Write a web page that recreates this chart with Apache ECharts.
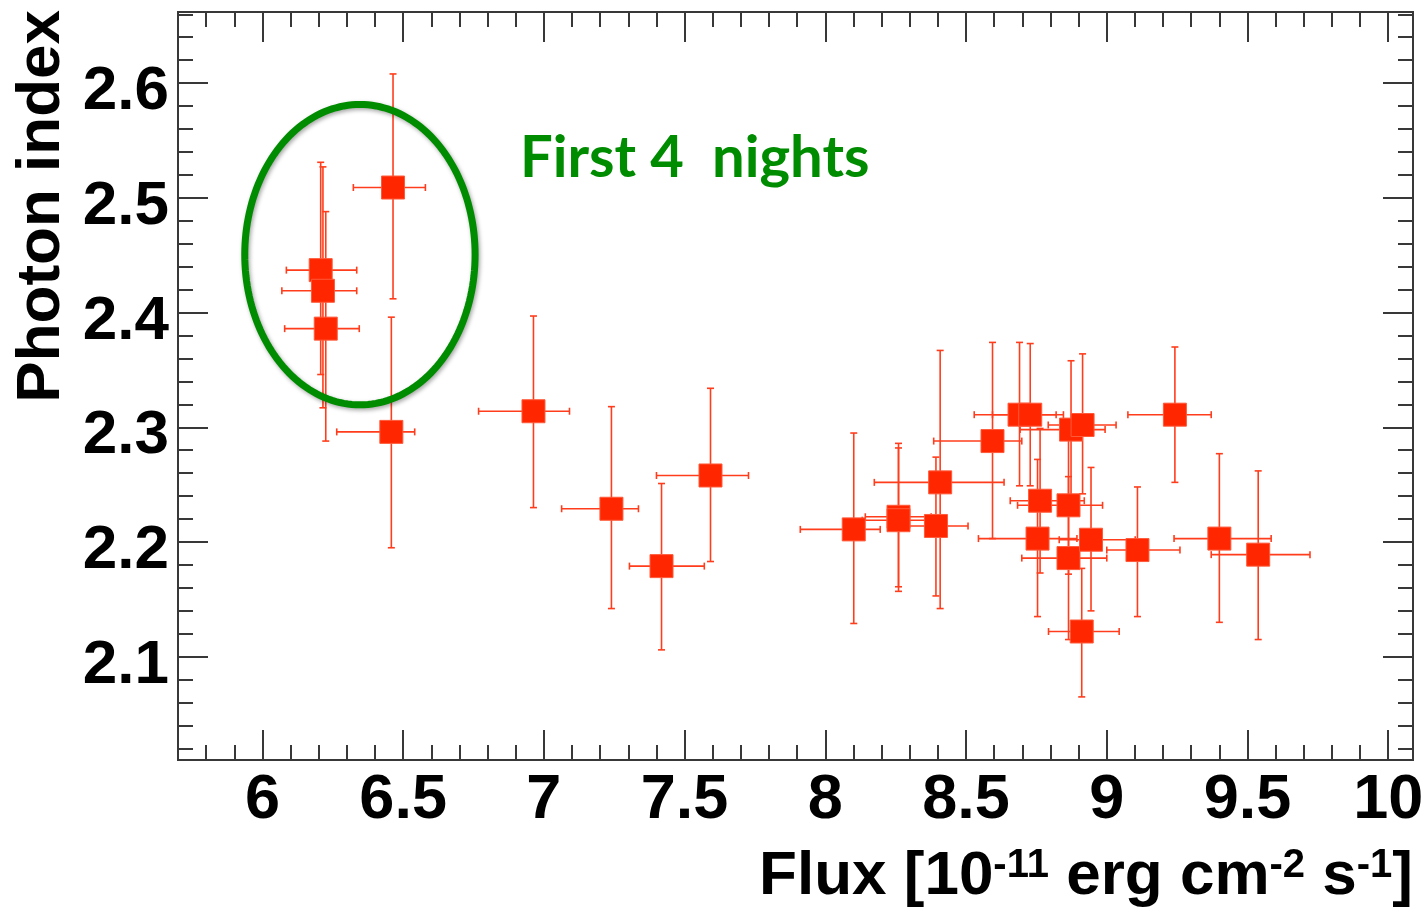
<!DOCTYPE html>
<html><head><meta charset="utf-8">
<script src="https://cdn.jsdelivr.net/npm/echarts@6/dist/echarts.min.js"></script>
<style>html,body{margin:0;padding:0;background:#fff}#c{width:1427px;height:914px}</style>
</head><body><div id="c"></div>
<script>
// Flux [1e-11 erg cm^-2 s^-1], with lower / upper error limits
const flux   = [6.207, 6.215, 6.225, 6.464, 6.458, 6.963, 7.240, 7.418, 7.592, 8.101, 8.260, 8.260, 8.393, 8.408, 8.594, 8.690, 8.728, 8.873, 8.914, 8.763, 8.864, 8.754, 8.864, 8.944, 9.109, 8.911, 9.242, 9.400, 9.538];
const fluxLo = [6.085, 6.069, 6.079, 6.323, 6.264, 6.768, 7.063, 7.304, 7.400, 7.911, 8.142, 8.131, 8.281, 8.174, 8.385, 8.529, 8.594, 8.692, 8.792, 8.657, 8.683, 8.544, 8.698, 8.831, 9.000, 8.793, 9.075, 9.239, 9.371];
const fluxHi = [6.335, 6.335, 6.344, 6.579, 6.541, 7.091, 7.336, 7.570, 7.727, 8.195, 8.376, 8.387, 8.507, 8.635, 8.698, 8.820, 8.846, 8.994, 9.033, 8.920, 8.985, 8.894, 9.000, 9.101, 9.260, 9.044, 9.371, 9.584, 9.722];
// Photon index, with lower / upper error limits
const index   = [2.437, 2.419, 2.386, 2.509, 2.296, 2.314, 2.229, 2.179, 2.258, 2.211, 2.222, 2.219, 2.214, 2.252, 2.288, 2.311, 2.311, 2.298, 2.302, 2.236, 2.232, 2.203, 2.186, 2.202, 2.193, 2.122, 2.311, 2.203, 2.189];
const indexLo = [2.346, 2.317, 2.288, 2.412, 2.195, 2.230, 2.142, 2.106, 2.183, 2.129, 2.161, 2.157, 2.153, 2.142, 2.203, 2.249, 2.249, 2.237, 2.242, 2.173, 2.172, 2.135, 2.115, 2.140, 2.135, 2.065, 2.252, 2.130, 2.115];
const indexHi = [2.531, 2.527, 2.488, 2.608, 2.396, 2.397, 2.318, 2.251, 2.334, 2.295, 2.286, 2.282, 2.274, 2.367, 2.374, 2.374, 2.373, 2.358, 2.364, 2.299, 2.292, 2.272, 2.257, 2.265, 2.248, 2.177, 2.370, 2.277, 2.262];

// Tick labels
const xTickLabels = [6, 6.5, 7, 7.5, 8, 8.5, 9, 9.5, 10];
const yTickLabels = [2.1, 2.2, 2.3, 2.4, 2.5, 2.6];

// Annotation ellipse (data coords): centre x, centre y, radius x, radius y
const ellipse = [6.3464, 2.4505, 0.4092, 0.1309];
const annotationText = 'First 4  nights';

const xMin = 5.7, xMax = 10.088, yMin = 2.01, yMax = 2.662;
const xMinorTicks = []; for (let i = 58; i <= 100; i++) xMinorTicks.push(+(i / 10).toFixed(1));
const yMinorTicks = []; for (let i = 101; i <= 133; i++) yMinorTicks.push(+(i * 2 / 100).toFixed(2));

const FRAME = '#383838';
const RED = '#ff2600';
const ERR = '#ff3d1c';
const GREEN = '#008c00';
const FONT = '"Liberation Sans", Arial, Helvetica, sans-serif';

function xAxis(pos, ticks, len, withLabels) {
  const ax = {
    type: 'value', gridIndex: 0, position: pos, min: xMin, max: xMax,
    axisLine: { show: true, onZero: false, lineStyle: { color: FRAME, width: 2 } },
    axisTick: { show: true, inside: true, length: len, customValues: ticks, lineStyle: { color: FRAME, width: 2 } },
    axisLabel: { show: false },
    splitLine: { show: false }
  };
  if (withLabels) {
    ax.axisLabel = { show: true, customValues: xTickLabels, margin: 9, color: '#000',
      fontFamily: FONT, fontWeight: 'bold', fontSize: 63 };
    ax.name = '{a|Flux [10}{s|-11}{a| erg cm}{s|-2}{a| s}{s|-1}{a|]}';
    ax.nameLocation = 'end';
    ax.nameGap = 0;
    ax.nameTextStyle = {
      align: 'right', verticalAlign: 'top', padding: [86, 0, 0, 0],
      rich: {
        a: { fontFamily: FONT, fontWeight: 'bold', fontSize: 62, lineHeight: 62, color: '#000' },
        s: { fontFamily: FONT, fontWeight: 'bold', fontSize: 40, lineHeight: 40, color: '#000', verticalAlign: 'top' }
      }
    };
  }
  return ax;
}
function yAxis(pos, ticks, len, withLabels) {
  const ax = {
    type: 'value', gridIndex: 0, position: pos, min: yMin, max: yMax,
    axisLine: { show: true, onZero: false, lineStyle: { color: FRAME, width: 2 } },
    axisTick: { show: true, inside: true, length: len, customValues: ticks, lineStyle: { color: FRAME, width: 2 } },
    axisLabel: { show: false },
    splitLine: { show: false }
  };
  if (withLabels) {
    ax.axisLabel = { show: true, customValues: yTickLabels, margin: 9, color: '#000',
      fontFamily: FONT, fontWeight: 'bold', fontSize: 62, verticalAlign: 'top', lineHeight: 18,
      formatter: v => v.toFixed(1) };
    ax.name = 'Photon index';
    ax.nameLocation = 'end';
    ax.nameRotate = 90;
    ax.nameGap = 2;
    ax.nameTextStyle = { fontFamily: FONT, fontWeight: 'bold', fontSize: 62, color: '#000',
      align: 'right', verticalAlign: 'bottom', padding: [0, 0, 105, 0] };
  }
  return ax;
}

const points = flux.map((x, i) => [x, index[i]]);
const errs = flux.map((x, i) => [x, index[i], fluxLo[i], fluxHi[i], indexLo[i], indexHi[i]]);

const chart = echarts.init(document.getElementById('c'), null, { renderer: 'canvas' });
chart.setOption({
  animation: false,
  backgroundColor: '#fff',
  grid: { left: 178, top: 12, right: 14, bottom: 154, containLabel: false, outerBoundsMode: 'none' },
  xAxis: [
    xAxis('bottom', xTickLabels, 30, true),
    xAxis('bottom', xMinorTicks, 15, false),
    xAxis('top', xTickLabels, 30, false),
    xAxis('top', xMinorTicks, 15, false)
  ],
  yAxis: [
    yAxis('left', yTickLabels, 30, true),
    yAxis('left', yMinorTicks, 15, false),
    yAxis('right', yTickLabels, 30, false),
    yAxis('right', yMinorTicks, 15, false)
  ],
  graphic: [{
    type: 'text', left: 520, top: 129, z: 100,
    style: { text: annotationText, fill: GREEN, font: 'bold 58px Lato, "Open Sans", sans-serif' }
  }],
  series: [
    {
      type: 'custom', name: 'errors', xAxisIndex: 0, yAxisIndex: 0, z: 2,
      data: errs,
      encode: { x: 0, y: 1 },
      renderItem: function (params, api) {
        const c = api.coord([api.value(0), api.value(1)]);
        const l = api.coord([api.value(2), api.value(1)]);
        const r = api.coord([api.value(3), api.value(1)]);
        const b = api.coord([api.value(0), api.value(4)]);
        const t = api.coord([api.value(0), api.value(5)]);
        const cap = 3.5;
        const st = { stroke: ERR, lineWidth: 1.6 };
        return {
          type: 'group', children: [
            { type: 'line', shape: { x1: l[0], y1: c[1], x2: r[0], y2: c[1] }, style: st },
            { type: 'line', shape: { x1: c[0], y1: b[1], x2: c[0], y2: t[1] }, style: st },
            { type: 'line', shape: { x1: l[0], y1: c[1] - cap, x2: l[0], y2: c[1] + cap }, style: st },
            { type: 'line', shape: { x1: r[0], y1: c[1] - cap, x2: r[0], y2: c[1] + cap }, style: st },
            { type: 'line', shape: { x1: c[0] - cap, y1: b[1], x2: c[0] + cap, y2: b[1] }, style: st },
            { type: 'line', shape: { x1: c[0] - cap, y1: t[1], x2: c[0] + cap, y2: t[1] }, style: st }
          ]
        };
      }
    },
    {
      type: 'scatter', name: 'Photon index vs flux', xAxisIndex: 0, yAxisIndex: 0, z: 3,
      symbol: 'rect', symbolSize: 23,
      itemStyle: { color: RED, borderColor: '#ff5a3a', borderWidth: 1, opacity: 1 },
      data: points
    },
    {
      type: 'custom', name: 'annotation', xAxisIndex: 0, yAxisIndex: 0, z: 4, silent: true,
      data: [ellipse],
      encode: { x: 0, y: 1 },
      renderItem: function (params, api) {
        const c = api.coord([api.value(0), api.value(1)]);
        const sz = api.size([api.value(2), api.value(3)]);
        const pts = [];
        const n = 180;
        for (let k = 0; k < n; k++) {
          const a = 2 * Math.PI * k / n;
          pts.push([c[0] + sz[0] * Math.cos(a), c[1] + sz[1] * Math.sin(a)]);
        }
        return {
          type: 'polygon', shape: { points: pts },
          style: { fill: 'none', stroke: GREEN, lineWidth: 7,
            shadowBlur: 4, shadowColor: 'rgba(0,0,0,0.35)', shadowOffsetX: 1.5, shadowOffsetY: 2 }
        };
      }
    }
  ]
});
</script>
</body></html>
